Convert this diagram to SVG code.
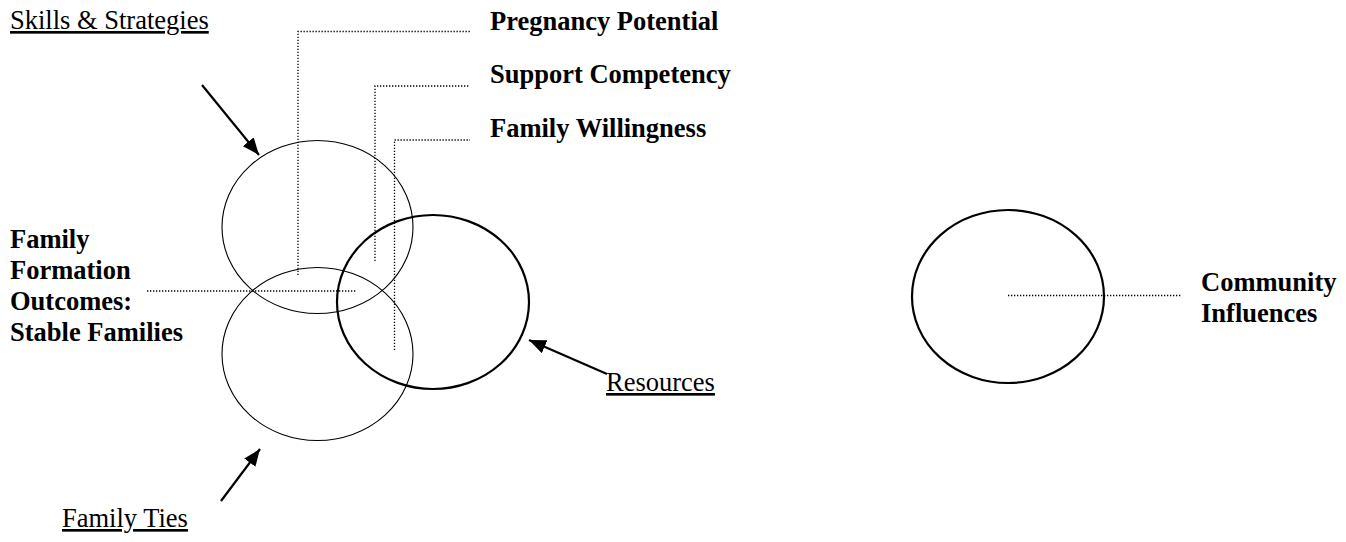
<svg xmlns="http://www.w3.org/2000/svg" width="1346" height="542" viewBox="0 0 1346 542">
  <style>
    .bg { fill: #ffffff; }
    .ring-thin { fill: none; stroke: #000; stroke-width: 1.1; }
    .ring-bold { fill: none; stroke: #000; stroke-width: 2.2; }
    .leader { fill: none; stroke: #000; stroke-width: 1.3; stroke-dasharray: 1.3 1.7; }
    .pointer { fill: none; stroke: #000; stroke-width: 2.2; marker-end: url(#head); }
    .label-b { font-family: "Liberation Serif", "Times New Roman", serif; font-size: 26.5px; font-weight: bold; fill: #000; }
    .label-u { font-family: "Liberation Serif", "Times New Roman", serif; font-size: 26.5px; fill: #000; text-decoration: underline; }
  </style>
  <defs>
    <marker id="head" markerUnits="userSpaceOnUse" markerWidth="18" markerHeight="14" refX="17" refY="7" orient="auto">
      <path d="M0,0 L17,7 L0,14 Z" fill="#000"/>
    </marker>
  </defs>

  <rect class="bg" x="0" y="0" width="1346" height="542"/>

  <!-- overlapping domains -->
  <g id="skills-strategies">
    <ellipse class="ring-thin" cx="317.5" cy="227" rx="95.5" ry="86.5"/>
    <text class="label-u" x="10" y="29">Skills &amp; Strategies</text>
  </g>
  <g id="family-ties">
    <ellipse class="ring-thin" cx="317.5" cy="354" rx="95.5" ry="86.5"/>
    <text class="label-u" x="62" y="527">Family Ties</text>
  </g>
  <g id="resources">
    <ellipse class="ring-bold" cx="433" cy="302" rx="96" ry="87"/>
    <text class="label-u" x="606" y="391">Resources</text>
  </g>
  <g id="community-influences">
    <ellipse class="ring-bold" cx="1008" cy="296.5" rx="96" ry="86.5"/>
    <text class="label-b" x="1201" y="291">Community</text>
    <text class="label-b" x="1201" y="322">Influences</text>
  </g>

  <!-- outcome labels -->
  <g id="pregnancy-potential">
    <text class="label-b" x="490" y="30">Pregnancy Potential</text>
  </g>
  <g id="support-competency">
    <text class="label-b" x="490" y="83">Support Competency</text>
  </g>
  <g id="family-willingness">
    <text class="label-b" x="490" y="137">Family Willingness</text>
  </g>
  <g id="family-formation-outcomes">
    <text class="label-b" x="10" y="248">Family</text>
    <text class="label-b" x="10" y="279">Formation</text>
    <text class="label-b" x="10" y="310">Outcomes:</text>
    <text class="label-b" x="10" y="341">Stable Families</text>
  </g>

  <!-- connectors: dotted leaders and arrows -->
  <g id="connectors">
    <polyline class="leader" points="298,275 298,31.5 470,31.5"/>
    <polyline class="leader" points="375,261 375,86 469,86"/>
    <polyline class="leader" points="394.5,350 394.5,140 470,140"/>
    <line class="leader" x1="147" y1="291" x2="357" y2="291"/>
    <line class="leader" x1="1008" y1="295.5" x2="1182" y2="295.5"/>

    <line class="pointer" x1="202" y1="85" x2="259" y2="155"/>
    <line class="pointer" x1="221" y1="501" x2="260" y2="449"/>
    <line class="pointer" x1="607" y1="374" x2="529" y2="340"/>
  </g>
</svg>
